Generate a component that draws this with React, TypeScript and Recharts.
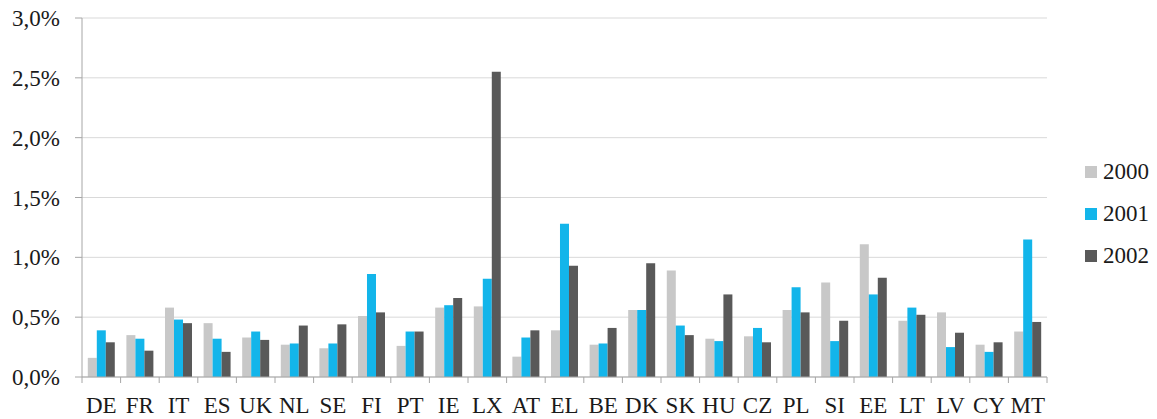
import React from 'react';
import { BarChart, Bar, XAxis, YAxis, CartesianGrid, Legend } from 'recharts';

const countries = ['DE', 'FR', 'IT', 'ES', 'UK', 'NL', 'SE', 'FI', 'PT', 'IE', 'LX', 'AT', 'EL', 'BE', 'DK', 'SK', 'HU', 'CZ', 'PL', 'SI', 'EE', 'LT', 'LV', 'CY', 'MT'];
const v2000 = [0.16, 0.35, 0.58, 0.45, 0.33, 0.27, 0.24, 0.51, 0.26, 0.58, 0.59, 0.17, 0.39, 0.27, 0.56, 0.89, 0.32, 0.34, 0.56, 0.79, 1.11, 0.47, 0.54, 0.27, 0.38];
const v2001 = [0.39, 0.32, 0.48, 0.32, 0.38, 0.28, 0.28, 0.86, 0.38, 0.60, 0.82, 0.33, 1.28, 0.28, 0.56, 0.43, 0.30, 0.41, 0.75, 0.30, 0.69, 0.58, 0.25, 0.21, 1.15];
const v2002 = [0.29, 0.22, 0.45, 0.21, 0.31, 0.43, 0.44, 0.54, 0.38, 0.66, 2.55, 0.39, 0.93, 0.41, 0.95, 0.35, 0.69, 0.29, 0.54, 0.47, 0.83, 0.52, 0.37, 0.29, 0.46];
const yTicks = [0, 0.5, 1, 1.5, 2, 2.5, 3];
const series = [
  { key: 'y2000', name: '2000', color: '#c8c8c8' },
  { key: 'y2001', name: '2001', color: '#13b5ea' },
  { key: 'y2002', name: '2002', color: '#595959' },
];

const data = countries.map((c, i) => ({ country: c, y2000: v2000[i], y2001: v2001[i], y2002: v2002[i] }));

// serif, close to the original's Constantia
const FONT = 'Liberation Serif';
const AXIS = '#a6a6a6';

const CountryTick = (props: any) => {
  const { x, y, payload, index, visibleTicksCount } = props;
  const half = payload.offset || 0;
  const last = index === visibleTicksCount - 1;
  return (
    <g>
      <line x1={x - half} x2={x - half} y1={y} y2={y + 6} stroke={AXIS} />
      {last && <line x1={x + half} x2={x + half} y1={y} y2={y + 6} stroke={AXIS} />}
      <text x={x} y={y + 20} dy="0.71em" textAnchor="middle" fill="#1a1a1a" style={{ fontSize: 23, fontFamily: FONT }}>
        {payload.value}
      </text>
    </g>
  );
};

const LegendBox = () => (
  <div style={{ fontFamily: FONT, fontSize: 23, color: '#1a1a1a' }}>
    {series.map((s) => (
      <div key={s.key} style={{ display: 'flex', alignItems: 'center', height: 42 }}>
        <span style={{ display: 'inline-block', width: 12, height: 12, background: s.color, marginRight: 6 }} />
        <span>{s.name}</span>
      </div>
    ))}
  </div>
);

export default function App() {
  return (
    <div style={{ position: 'absolute', left: 0, top: 0, width: 1157, height: 419, background: '#fff', fontFamily: FONT }}>
      <BarChart
        width={1157}
        height={419}
        data={data}
        margin={{ top: 18, right: 110, bottom: 0, left: 0 }}
        barCategoryGap="15%"
        barGap={0}
        style={{ fontFamily: FONT }}
      >
        <CartesianGrid vertical={false} stroke="#d9d9d9" />
        <XAxis
          dataKey="country"
          height={42}
          axisLine={{ stroke: AXIS }}
          tickLine={false}
          tickSize={0}
          tickMargin={0}
          interval={0}
          tick={<CountryTick />}
        />
        <YAxis
          width={82}
          domain={[0, 3]}
          ticks={yTicks}
          axisLine={{ stroke: AXIS }}
          tickLine={{ stroke: AXIS }}
          tickSize={7}
          tickMargin={15}
          tick={{ fill: '#1a1a1a', fontSize: 23, style: { fontFamily: FONT } }}
          tickFormatter={(v: number) => v.toFixed(1).replace('.', ',') + '%'}
        />
        <Legend
          layout="vertical"
          align="center"
          verticalAlign="middle"
          content={<LegendBox />}
          wrapperStyle={{ left: 1085, top: 151, width: 72 }}
        />
        {series.map((s) => (
          <Bar key={s.key} dataKey={s.key} name={s.name} fill={s.color} isAnimationActive={false} />
        ))}
      </BarChart>
    </div>
  );
}
